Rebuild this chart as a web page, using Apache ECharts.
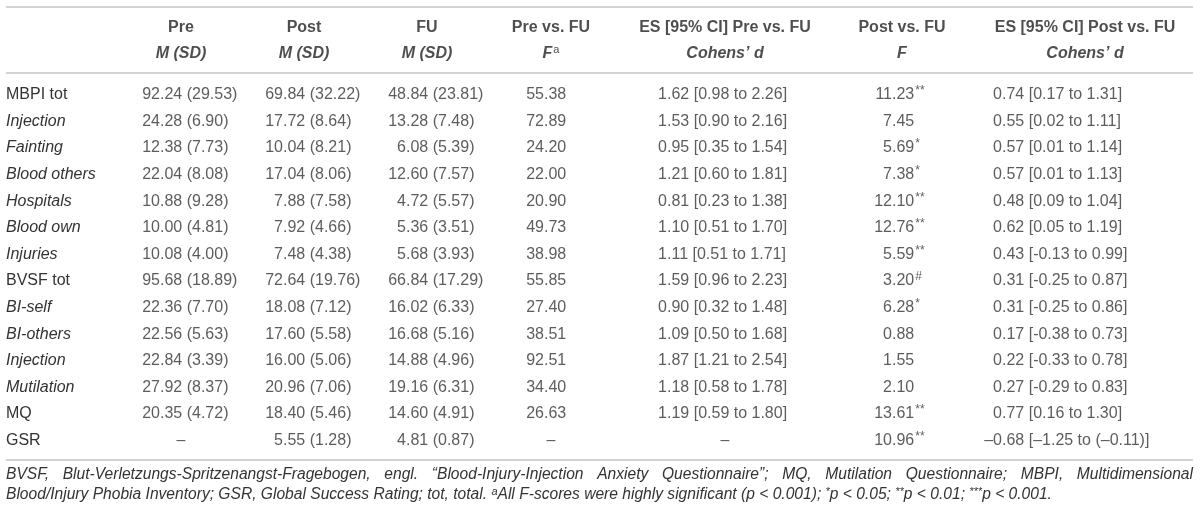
<!DOCTYPE html>
<html>
<head>
<meta charset="utf-8">
<script src="https://cdn.jsdelivr.net/npm/echarts@6/dist/echarts.min.js"></script>
<style>
	html, body { margin: 0; padding: 0; background: #fff; }
	#main { width: 1200px; height: 512px; }
</style>
</head>
<body>
<div id="main"></div>
<script>
/* table content */
const rowNames = [ "MBPI tot", "Injection", "Fainting", "Blood others", "Hospitals", "Blood own", "Injuries",
	"BVSF tot", "BI-self", "BI-others", "Injection", "Mutilation", "MQ", "GSR" ];
const rowItalic = [ false, true, true, true, true, true, true, false, true, true, true, true, false, false ];

const preMSD = [ "92.24 (29.53)", "24.28 (6.90)", "12.38 (7.73)", "22.04 (8.08)", "10.88 (9.28)", "10.00 (4.81)",
	"10.08 (4.00)", "95.68 (18.89)", "22.36 (7.70)", "22.56 (5.63)", "22.84 (3.39)", "27.92 (8.37)", "20.35 (4.72)", "–" ];
const postMSD = [ "69.84 (32.22)", "17.72 (8.64)", "10.04 (8.21)", "17.04 (8.06)", "7.88 (7.58)", "7.92 (4.66)",
	"7.48 (4.38)", "72.64 (19.76)", "18.08 (7.12)", "17.60 (5.58)", "16.00 (5.06)", "20.96 (7.06)", "18.40 (5.46)", "5.55 (1.28)" ];
const fuMSD = [ "48.84 (23.81)", "13.28 (7.48)", "6.08 (5.39)", "12.60 (7.57)", "4.72 (5.57)", "5.36 (3.51)",
	"5.68 (3.93)", "66.84 (17.29)", "16.02 (6.33)", "16.68 (5.16)", "14.88 (4.96)", "19.16 (6.31)", "14.60 (4.91)", "4.81 (0.87)" ];
const fPreFu = [ "55.38", "72.89", "24.20", "22.00", "20.90", "49.73", "38.98", "55.85", "27.40", "38.51", "92.51",
	"34.40", "26.63", "–" ];
const esPreFu = [ "1.62 [0.98 to 2.26]", "1.53 [0.90 to 2.16]", "0.95 [0.35 to 1.54]", "1.21 [0.60 to 1.81]",
	"0.81 [0.23 to 1.38]", "1.10 [0.51 to 1.70]", "1.11 [0.51 to 1.71]", "1.59 [0.96 to 2.23]", "0.90 [0.32 to 1.48]",
	"1.09 [0.50 to 1.68]", "1.87 [1.21 to 2.54]", "1.18 [0.58 to 1.78]", "1.19 [0.59 to 1.80]", "–" ];
const fPostFu = [ "11.23**", "7.45", "5.69*", "7.38*", "12.10**", "12.76**", "5.59**", "3.20#", "6.28*", "0.88",
	"1.55", "2.10", "13.61**", "10.96**" ];
const esPostFu = [ "0.74 [0.17 to 1.31]", "0.55 [0.02 to 1.11]", "0.57 [0.01 to 1.14]", "0.57 [0.01 to 1.13]",
	"0.48 [0.09 to 1.04]", "0.62 [0.05 to 1.19]", "0.43 [-0.13 to 0.99]", "0.31 [-0.25 to 0.87]", "0.31 [-0.25 to 0.86]",
	"0.17 [-0.38 to 0.73]", "0.22 [-0.33 to 0.78]", "0.27 [-0.29 to 0.83]", "0.77 [0.16 to 1.30]", "–0.68 [–1.25 to (–0.11)]" ];

const headTop = [ "Pre", "Post", "FU", "Pre vs. FU", "ES [95% CI] Pre vs. FU", "Post vs. FU", "ES [95% CI] Post vs. FU" ];
const headSub = [ "M (SD)", "M (SD)", "M (SD)", "F^a", "Cohens’ d", "F", "Cohens’ d" ];

const noteLine1 = "BVSF, Blut-Verletzungs-Spritzenangst-Fragebogen, engl. “Blood-Injury-Injection Anxiety Questionnaire”; MQ, Mutilation Questionnaire; MBPI, Multidimensional";
const noteLine2 = "Blood/Injury Phobia Inventory; GSR, Global Success Rating; tot, total. {s|a}All F-scores were highly significant (p < 0.001); {s|*}p < 0.05; {s|**}p < 0.01; {s|***}p < 0.001.";

const columns = [ preMSD, postMSD, fuMSD, fPreFu, esPreFu, fPostFu, esPostFu ];

/* layout: header centres and decimal-point anchors of each column (px) */
const colCenter = [ 181, 304, 427, 551, 725, 902, 1085 ];
const colAnchor = [ 160, 283, 406, 544, 667, 892, 1002 ];

const FONT = "'Liberation Sans', Arial, Helvetica, sans-serif";
const INK = "#333";
const NOTE_SIZE = 15.6;

const ctx = document.createElement( "canvas" ).getContext( "2d" );
function textWidth( s, font ) {
	ctx.font = font;
	return ctx.measureText( s ).width;
}

/* split trailing significance marks into a superscript */
function cellRich( text ) {
	const m = text.match( /^(.*?)([*#]+)$/ );
	return m ? `{n|${ m[1] }}{s|${ m[2] }}` : `{n|${ text }}`;
}

const cellRichStyle = {
	n: { fontSize: 16, fontFamily: FONT, color: INK, lineHeight: 20 },
	s: { fontSize: 12, fontFamily: FONT, color: INK, lineHeight: 20, verticalAlign: "top", padding: [ 0, 0, 0, 1 ] }
};

const bodySeries = columns.map( ( col, c ) => ( {
	type: "scatter",
	xAxisIndex: 0,
	yAxisIndex: 0,
	symbolSize: 0,
	silent: true,
	data: col.map( ( t, r ) => {
		if ( t === "–" ) {
			return { value: [ colCenter[c], r ], label: { align: "center" } };
		}
		const pre = t.slice( 0, t.indexOf( "." ) );
		const w = textWidth( pre, `16px ${ FONT }` );
		return { value: [ colAnchor[c], r ], label: { align: "left", offset: [ -w, 0 ] } };
	} ),
	label: {
		show: true,
		position: "inside",
		verticalAlign: "middle",
		formatter: p => cellRich( col[p.dataIndex] ),
		rich: cellRichStyle
	}
} ) );

const headSeries = {
	type: "scatter",
	xAxisIndex: 1,
	yAxisIndex: 1,
	symbolSize: 0,
	silent: true,
	data: [
		...headTop.map( ( t, c ) => ( { value: [ colCenter[c], 0 ], name: `{b|${ t }}` } ) ),
		...headSub.map( ( t, c ) => {
			const [ main, sup ] = t.split( "^" );
			return { value: [ colCenter[c], 1 ], name: `{bi|${ main }}` + ( sup ? `{sup|${ sup }}` : "" ) };
		} )
	],
	label: {
		show: true,
		position: "inside",
		align: "center",
		verticalAlign: "middle",
		formatter: p => p.name,
		rich: {
			b: { fontSize: 16, fontWeight: "bold", fontFamily: FONT, color: "#222", lineHeight: 20 },
			bi: { fontSize: 16, fontWeight: "bold", fontStyle: "italic", fontFamily: FONT, color: "#222", lineHeight: 20 },
			sup: { fontSize: 11, fontFamily: FONT, color: "#222", lineHeight: 20, verticalAlign: "top", padding: [ 1, 0, 0, 1 ] }
		}
	}
};

/* justified first footnote line */
const noteFont = `italic ${ NOTE_SIZE }px ${ FONT }`;
const words = noteLine1.split( " " );
const wordW = words.map( w => textWidth( w, noteFont ) );
const noteLeft = 6, noteRight = 1193;
const gap = ( noteRight - noteLeft - wordW.reduce( ( a, b ) => a + b, 0 ) ) / ( words.length - 1 );
let nx = noteLeft;
const noteWords = words.map( ( w, i ) => {
	const el = {
		type: "text",
		silent: true,
		style: {
			text: w, x: nx, y: 475, fill: INK, fontSize: NOTE_SIZE, fontStyle: "italic", fontFamily: FONT,
			verticalAlign: "middle"
		}
	};
	nx += wordW[i] + gap;
	return el;
} );

const rule = y => ( {
	type: "line",
	silent: true,
	shape: { x1: 6, y1: y, x2: 1193, y2: y },
	style: { stroke: "#d2d2d2", lineWidth: 2 }
} );

const option = {
	animation: false,
	backgroundColor: "#fff",
	grid: [
		{ left: 0, right: 0, top: 81.5, height: 372.4 },
		{ left: 0, right: 0, top: 14, height: 53 }
	],
	xAxis: [
		{ type: "value", gridIndex: 0, min: 0, max: 1200, show: false },
		{ type: "value", gridIndex: 1, min: 0, max: 1200, show: false }
	],
	yAxis: [ {
		type: "category",
		gridIndex: 0,
		inverse: true,
		data: rowNames,
		axisLine: { show: false },
		axisTick: { show: false },
		splitLine: { show: false },
		axisLabel: {
			inside: true,
			margin: 6,
			interval: 0,
			formatter: ( v, i ) => rowItalic[i] ? `{i|${ v }}` : `{n|${ v }}`,
			rich: {
				n: { fontSize: 16, fontFamily: FONT, color: INK },
				i: { fontSize: 16, fontFamily: FONT, fontStyle: "italic", color: INK }
			}
		}
	}, {
		type: "category",
		gridIndex: 1,
		inverse: true,
		data: [ "top", "sub" ],
		show: false
	} ],
	series: [ ...bodySeries, headSeries ],
	graphic: [
		rule( 7 ), rule( 73 ), rule( 460 ),
		...noteWords,
		{
			type: "text",
			silent: true,
			style: {
				text: noteLine2, x: noteLeft, y: 495, fill: INK, fontSize: NOTE_SIZE, fontStyle: "italic", fontFamily: FONT,
				verticalAlign: "middle",
				rich: {
					s: { fontSize: 11, fontStyle: "italic", fontFamily: FONT, fill: INK, verticalAlign: "top", lineHeight: 18 }
				}
			}
		}
	]
};

const chart = echarts.init( document.getElementById( "main" ) );
chart.setOption( option );
</script>
</body>
</html>
